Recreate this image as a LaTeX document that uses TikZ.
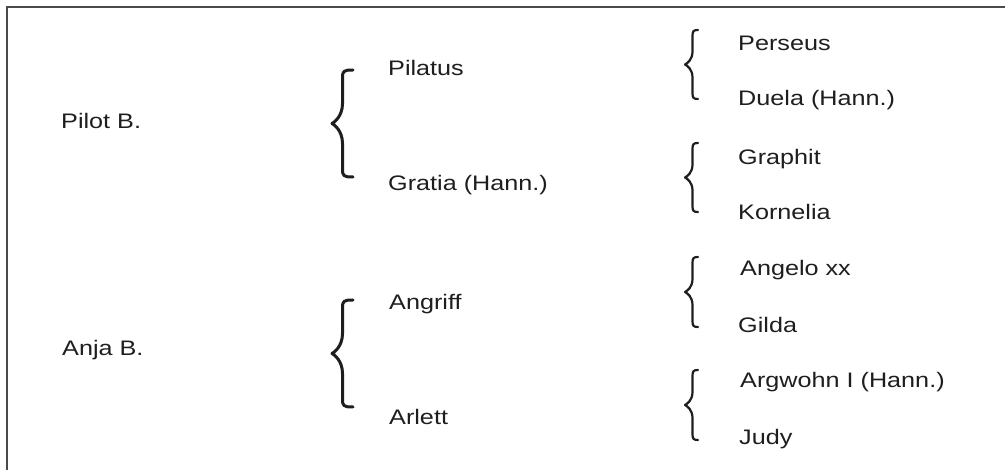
\documentclass[tikz,border=0pt]{standalone}
\usepackage{fontspec}
\setmainfont{Liberation Sans}
\usepackage{graphicx}
\definecolor{ink}{HTML}{1E1E1E}
\definecolor{framec}{HTML}{4A4A4A}
\newcommand{\wide}[1]{\scalebox{1.2}[1]{#1}}
% #1 tip x, #2 stem x, #3 end x, #4 top y, #5 bottom y, #6 hook radius, #7 tip radius, #8 style
\newcommand{\mybrace}[8]{%
  \draw[#8] (#3,#4) .. controls ({#2+1},#4) and (#2,{#4+1}) .. (#2,{#4+#6})
    -- (#2,{(#4+#5)/2-#7}) .. controls (#2,{(#4+#5)/2-0.35*#7}) and ({#1+2},{(#4+#5)/2-1}) .. (#1,{(#4+#5)/2})
    .. controls ({#1+2},{(#4+#5)/2+1}) and (#2,{(#4+#5)/2+0.35*#7}) .. (#2,{(#4+#5)/2+#7})
    -- (#2,{#5-#6}) .. controls (#2,{#5-1}) and ({#2+1},#5) .. (#3,#5);}
\begin{document}
\begin{tikzpicture}[x=1pt,y=-1pt,
  lbl/.style={anchor=base west, inner sep=0pt, text=ink, font=\fontsize{21}{25}\selectfont},
  bigbrace/.style={draw=ink, line width=3pt, line cap=round, line join=round},
  smallbrace/.style={draw=ink, line width=2.2pt, line cap=round, line join=round},
  framel/.style={draw=framec, line width=2pt}]
\useasboundingbox (0,0) rectangle (1005,470);
\fill[white] (0,0) rectangle (1005,470);
\draw[framel] (6.5,471) -- (6.5,7.5) -- (1006,7.5);

% left column
\node[lbl] (pilot) at (61,128.5) {\wide{Pilot B.}};
\node[lbl] (anja)  at (62,355.5) {\wide{Anja B.}};

% middle column
\node[lbl] (pilatus) at (388,75.5)  {\wide{Pilatus}};
\node[lbl] (gratia)  at (388,190.5) {\wide{Gratia (Hann.)}};
\node[lbl] (angriff) at (389,309.5) {\wide{Angriff}};
\node[lbl] (arlett)  at (389,424.5) {\wide{Arlett}};

% right column
\node[lbl] (perseus)  at (738,50.5)  {\wide{Perseus}};
\node[lbl] (duela)    at (738,105.5) {\wide{Duela (Hann.)}};
\node[lbl] (graphit)  at (738,164.5) {\wide{Graphit}};
\node[lbl] (kornelia) at (738,219.5) {\wide{Kornelia}};
\node[lbl] (angelo)   at (740,275.5) {\wide{Angelo xx}};
\node[lbl] (gilda)    at (738,332.5) {\wide{Gilda}};
\node[lbl] (argwohn)  at (740,387.5) {\wide{Argwohn I (Hann.)}};
\node[lbl] (judy)     at (739,444.5) {\wide{Judy}};

% big braces
\mybrace{332}{342.5}{353}{70}{177}{8}{20}{bigbrace}
\mybrace{332}{342.5}{353}{300}{407}{8}{20}{bigbrace}

% small braces
\mybrace{685}{692.5}{698}{30}{99}{6}{13}{smallbrace}
\mybrace{685}{692.5}{698}{143}{212}{6}{13}{smallbrace}
\mybrace{685}{692.5}{698}{257}{327}{6}{13}{smallbrace}
\mybrace{685}{692.5}{698}{370}{440}{6}{13}{smallbrace}
\end{tikzpicture}
\end{document}
